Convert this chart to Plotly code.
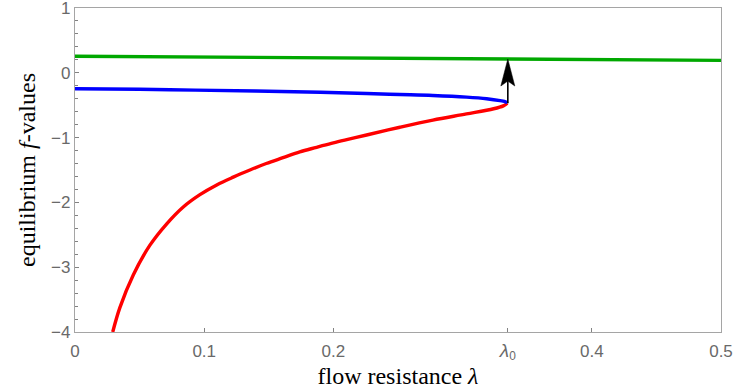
import numpy as np
import plotly.graph_objects as go

# Equilibrium branches f(lambda)
green_lam = [0.0, 0.1, 0.2, 0.3, 0.4, 0.5]
green_f = [0.256, 0.243, 0.230, 0.217, 0.204, 0.192]

blue_lam = [0.0, 0.05, 0.093, 0.14, 0.19, 0.2257, 0.2515, 0.277, 0.303, 0.3186, 0.329, 0.3335, 0.3346]
blue_f = [-0.245, -0.255, -0.267, -0.282, -0.30, -0.32, -0.335, -0.35, -0.375, -0.40, -0.43, -0.45, -0.47]

red_lam = [0.0292, 0.0348, 0.0451, 0.058, 0.071, 0.0838, 0.0967, 0.1097, 0.1225, 0.1354,
           0.148, 0.161, 0.174, 0.187, 0.200, 0.2128, 0.2257, 0.2515, 0.277, 0.303,
           0.324, 0.3315, 0.3346]
red_f = [-4.0, -3.62, -3.12, -2.66, -2.33, -2.07, -1.88, -1.73, -1.61, -1.50,
         -1.40, -1.31, -1.22, -1.15, -1.08, -1.02, -0.96, -0.84, -0.73, -0.635,
         -0.555, -0.51, -0.47]

lambda0 = 0.335
fold_f = -0.47

x_ticks = [0, 0.1, 0.2, lambda0, 0.4, 0.5]
x_ticktext = ["0", "0.1", "0.2",
              "<span style='font-size:19px'><i>λ</i></span><sub>0</sub>", "0.4", "0.5"]
y_ticks = [-4, -3, -2, -1, 0, 1]

x_range = [0, 0.5]
y_range = [-4, 1]

W, H = 735, 389
margin = dict(l=75, r=14, t=8, b=57)
px_per_x = (W - margin["l"] - margin["r"]) / (x_range[1] - x_range[0])
px_per_y = (H - margin["t"] - margin["b"]) / (y_range[1] - y_range[0])

GREEN = "rgb(0,168,0)"
BLUE = "rgb(0,0,255)"
RED = "rgb(255,0,0)"
LW = 3.4

fig = go.Figure()
fig.add_trace(go.Scatter(x=red_lam, y=red_f, mode="lines",
                         line=dict(color=RED, width=LW, shape="spline", smoothing=1.0)))
fig.add_trace(go.Scatter(x=blue_lam, y=blue_f, mode="lines",
                         line=dict(color=BLUE, width=LW, shape="spline", smoothing=1.0)))
fig.add_trace(go.Scatter(x=green_lam, y=green_f, mode="lines",
                         line=dict(color=GREEN, width=LW)))

# Jump arrow from the fold point up to the upper branch
tip_f = float(np.interp(lambda0, green_lam, green_f))
head_len = 27 / px_per_y
head_half = 7 / px_per_x
notch = 5 / px_per_y
base_f = tip_f - head_len
fig.add_trace(go.Scatter(x=[lambda0, lambda0], y=[fold_f, base_f + notch],
                         mode="lines", line=dict(color="black", width=1.6)))
fig.add_trace(go.Scatter(
    x=[lambda0, lambda0 + head_half, lambda0, lambda0 - head_half, lambda0],
    y=[tip_f, base_f, base_f + notch, base_f, tip_f],
    mode="lines", fill="toself", fillcolor="black",
    line=dict(color="black", width=0.5)))

axis_common = dict(
    showline=True, linecolor="rgb(165,165,165)", linewidth=1.2, mirror=True,
    showgrid=False, zeroline=False, automargin=False, ticklabeloverflow="allow",
    ticks="inside", tickcolor="rgb(130,130,130)", tickwidth=1,
    tickfont=dict(family="Liberation Sans, Arial, sans-serif", size=17, color="rgb(105,105,105)"),
)

fig.update_xaxes(
    range=x_range, tickmode="array", tickvals=x_ticks, ticktext=x_ticktext, ticklen=4,
    ticklabelstandoff=3,
    title=dict(text="flow resistance <i>λ</i>", standoff=7,
               font=dict(family="Liberation Serif, Times New Roman, serif", size=24, color="black")),
    **axis_common)
fig.update_yaxes(
    range=y_range, tickmode="array", tickvals=y_ticks, ticklen=4,
    minor=dict(dtick=0.2, ticks="inside", ticklen=2.5, tickcolor="rgb(130,130,130)"),
    title=dict(text="equilibrium <i>f</i>-values", standoff=8,
               font=dict(family="Liberation Serif, Times New Roman, serif", size=24, color="black")),
    **axis_common)

fig.update_layout(
    width=W, height=H, margin=margin,
    paper_bgcolor="white", plot_bgcolor="white",
    showlegend=False,
)

fig.write_html("out.html")
